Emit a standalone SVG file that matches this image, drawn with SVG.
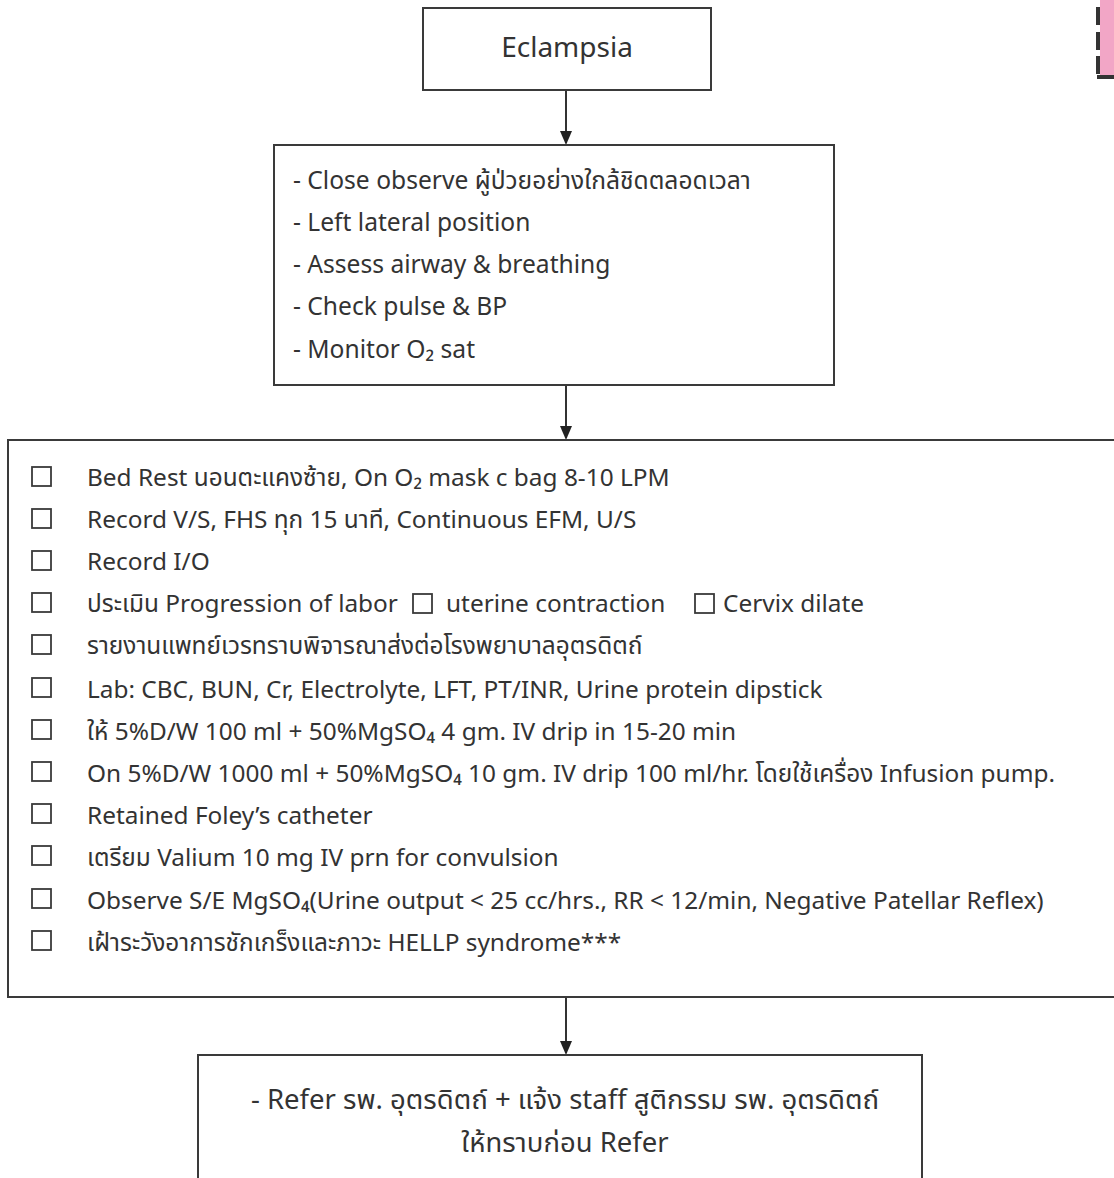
<svg xmlns="http://www.w3.org/2000/svg" width="1114" height="1178" viewBox="0 0 1114 1178">
<style>
.box{fill:#fff;stroke:#3a3a3a;stroke-width:2}
.t{font-family:"Noto Sans","Noto Sans Thai","Loma","Garuda",sans-serif;fill:#333;font-size:24.4px}
.s2{font-size:24.6px}
.cb{fill:none;stroke:#3a3a3a;stroke-width:1.8}
.conn{stroke:#333;stroke-width:2;fill:none}
.ah{fill:#222}
</style>
<rect width="1114" height="1178" fill="#fff"/>
<g id="corner">
<rect x="1100" y="0" width="14" height="76" fill="#f2a6c6"/>
<path d="M1098,7 V25 M1098,32 V50 M1098,56 V74 M1097,77 H1114" stroke="#333" stroke-width="4" fill="none"/>
</g>
<g id="connectors">
<line class="conn" x1="566" y1="90" x2="566" y2="133"/>
<path class="ah" d="M560,131 L572,131 L566,145 Z"/>
<line class="conn" x1="566" y1="385" x2="566" y2="428"/>
<path class="ah" d="M560,426 L572,426 L566,440 Z"/>
<line class="conn" x1="566" y1="998" x2="566" y2="1043"/>
<path class="ah" d="M560,1041 L572,1041 L566,1055 Z"/>
</g>
<g id="n1">
<rect class="box" x="423" y="8" width="288" height="82"/>
<text class="t" x="567" y="57" text-anchor="middle" style="font-size:28px">Eclampsia</text>
</g>
<g id="n2">
<rect class="box" x="274" y="145" width="560" height="240"/>
<text class="t s2" x="293" y="189">- Close observe ผู้ป่วยอย่างใกล้ชิดตลอดเวลา</text>
<text class="t s2" x="293" y="231">- Left lateral position</text>
<text class="t s2" x="293" y="273">- Assess airway &amp; breathing</text>
<text class="t s2" x="293" y="315">- Check pulse &amp; BP</text>
<text class="t s2" x="293" y="358">- Monitor O₂ sat</text>
</g>
<g id="n3">
<rect class="box" x="8" y="440" width="1130" height="557"/>
<g class="cb">
<rect x="32" y="467" width="19" height="19"/>
<rect x="32" y="509" width="19" height="19"/>
<rect x="32" y="551" width="19" height="19"/>
<rect x="32" y="593" width="19" height="19"/>
<rect x="32" y="635" width="19" height="19"/>
<rect x="32" y="678" width="19" height="19"/>
<rect x="32" y="720" width="19" height="19"/>
<rect x="32" y="762" width="19" height="19"/>
<rect x="32" y="804" width="19" height="19"/>
<rect x="32" y="846" width="19" height="19"/>
<rect x="32" y="889" width="19" height="19"/>
<rect x="32" y="931" width="19" height="19"/>
<rect x="413" y="594" width="19" height="19"/>
<rect x="695" y="594" width="19" height="19"/>
</g>
<text class="t" x="87" y="486">Bed Rest นอนตะแคงซ้าย, On O₂ mask c bag 8-10 LPM</text>
<text class="t" x="87" y="528">Record V/S, FHS ทุก 15 นาที, Continuous EFM, U/S</text>
<text class="t" x="87" y="570">Record I/O</text>
<text class="t" x="87" y="612">ประเมิน Progression of labor</text>
<text class="t" x="446" y="612">uterine contraction</text>
<text class="t" x="723" y="612">Cervix dilate</text>
<text class="t" x="87" y="654">รายงานแพทย์เวรทราบพิจารณาส่งต่อโรงพยาบาลอุตรดิตถ์</text>
<text class="t" x="87" y="698">Lab: CBC, BUN, Cr, Electrolyte, LFT, PT/INR, Urine protein dipstick</text>
<text class="t" x="87" y="740">ให้ 5%D/W 100 ml + 50%MgSO₄ 4 gm. IV drip in 15-20 min</text>
<text class="t" x="87" y="782">On 5%D/W 1000 ml + 50%MgSO₄ 10 gm. IV drip 100 ml/hr. โดยใช้เครื่อง Infusion pump.</text>
<text class="t" x="87" y="824">Retained Foley’s catheter</text>
<text class="t" x="87" y="866">เตรียม Valium 10 mg IV prn for convulsion</text>
<text class="t" x="87" y="909">Observe S/E MgSO₄(Urine output &lt; 25 cc/hrs., RR &lt; 12/min, Negative Patellar Reflex)</text>
<text class="t" x="87" y="951">เฝ้าระวังอาการชักเกร็งและภาวะ HELLP syndrome***</text>
</g>
<g id="n4">
<rect class="box" x="198" y="1055" width="724" height="140"/>
<text class="t" x="565" y="1109" text-anchor="middle" style="font-size:27.5px">- Refer รพ. อุตรดิตถ์ + แจ้ง staff สูติกรรม รพ. อุตรดิตถ์</text>
<text class="t" x="565" y="1152" text-anchor="middle" style="font-size:27.5px">ให้ทราบก่อน Refer</text>
</g>
</svg>
